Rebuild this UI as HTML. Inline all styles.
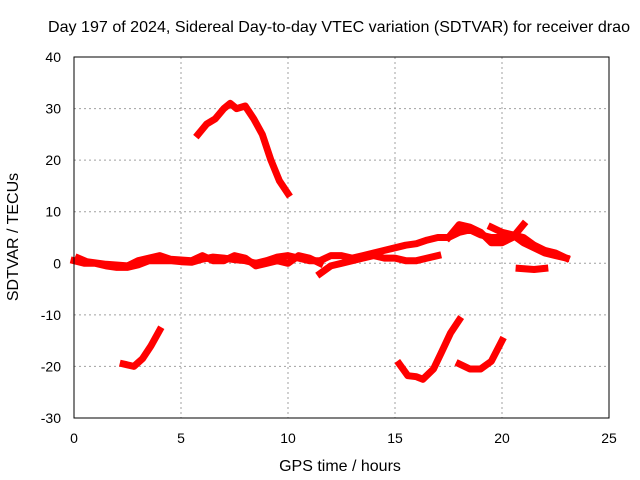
<!DOCTYPE html>
<html><head><meta charset="utf-8"><style>
body{margin:0;background:#fff}
svg{display:block;font-family:"Liberation Sans",sans-serif}
</style></head><body>
<svg id="chart" width="640" height="480">
<rect x="0" y="0" width="640" height="480" fill="#fff"/>
<g id="grid"></g>
<g id="series" fill="none" stroke="#ff0000" stroke-width="7" stroke-linejoin="round" stroke-linecap="square"></g>
<rect x="74" y="57" width="535" height="361" fill="none" stroke="#000" stroke-width="1"/>
<g id="ticks" font-size="14" fill="#000"></g>
<text x="339" y="32" font-size="16" text-anchor="middle" textLength="582" lengthAdjust="spacingAndGlyphs">Day 197 of 2024, Sidereal Day-to-day VTEC variation (SDTVAR) for receiver drao</text>
<text x="340" y="471" font-size="16" text-anchor="middle">GPS time / hours</text>
<text x="18" y="237" font-size="16" text-anchor="middle" transform="rotate(-90 18 237)">SDTVAR / TECUs</text>
</svg>
<script>
const xTicks=[0,5,10,15,20,25];
const yTicks=[40,30,20,10,0,-10,-20,-30];
const bandMain=[[0,0.5],[0.5,0],[1,0],[1.5,-0.5],[2,-0.8],[2.5,-0.8],[3,-0.3],[3.5,0.5],[4,0.5],[4.5,0.5],[5,0.3],[5.5,0.2],[6,0.8],[6.5,1.2],[7,1],[7.5,0.7],[8,0.5],[8.5,0],[9,0.5],[9.5,1.2],[10,1.5],[10.5,1],[11,0.5],[11.5,0.5],[12,1.5],[12.5,1.5],[13,1],[13.5,1.5],[14,2],[14.5,2.5],[15,3],[15.5,3.5],[16,3.8],[16.5,4.5],[17,5],[17.5,5],[18,6],[18.5,6.5],[19,5.5],[19.5,5],[20,5],[20.5,5.5],[21,4],[21.5,3],[22,2],[22.5,1.5],[23,1]];
const bandSecond=[[0.2,1],[0.6,0.3],[1.5,-0.2],[2.5,-0.5],[3,0.5],[3.5,1],[4,1.5],[4.5,0.8],[5.5,0.5],[6,1.5],[6.5,0.5],[7,0.5],[7.5,1.5],[8,1],[8.5,-0.5],[9,0],[9.5,0.5],[10,0],[10.5,1.5],[11,1],[11.5,0]];
const bandLow=[[11.5,-2],[12,-0.5],[12.5,0],[13,0.5],[13.5,1],[14,1.5],[14.5,1],[15,1],[15.5,0.5],[16,0.5],[16.5,1],[17,1.5]];
const bandUpperA=[[17.5,5],[18,7.5],[18.5,7],[19,6],[19.5,4],[20,4],[20.5,5],[21,7.5]];
const bandUpperB=[[19.5,7],[20,6],[20.5,5.5],[21,5],[21.5,3.5],[22,2.5],[22.5,2],[23,1]];
const smallSeg=[[20.8,-1],[21.5,-1.2],[22,-1]];
const arcHigh=[[5.8,25],[6.2,27],[6.6,28],[7,30],[7.3,31],[7.6,30],[8,30.5],[8.4,28],[8.8,25],[9.2,20],[9.6,16],[10,13.5]];
const arcLow1=[[2.3,-19.5],[2.8,-20],[3.2,-18.5],[3.6,-16],[4,-13]];
const arcLow2=[[15.2,-19.5],[15.6,-21.8],[16,-22],[16.3,-22.5],[16.8,-20.5],[17.2,-17],[17.6,-13.5],[18,-11]];
const arcLow3=[[18,-19.5],[18.5,-20.5],[19,-20.5],[19.5,-19],[20,-15]];
const seriesList=[["band-main",bandMain],["band-second",bandSecond],["band-low",bandLow],["band-upper-a",bandUpperA],["band-upper-b",bandUpperB],["small-segment",smallSeg],["arc-high",arcHigh],["arc-low-1",arcLow1],["arc-low-2",arcLow2],["arc-low-3",arcLow3]];
const NS="http://www.w3.org/2000/svg";
const X=h=>74+h*(535/25);
const Y=v=>57+(40-v)*(361/70);
const grid=document.getElementById('grid'),ticks=document.getElementById('ticks'),ser=document.getElementById('series');
xTicks.forEach(t=>{
 if(t>0&&t<25){const l=document.createElementNS(NS,'line');l.setAttribute('x1',X(t));l.setAttribute('x2',X(t));l.setAttribute('y1',57);l.setAttribute('y2',418);l.setAttribute('stroke','#a0a0a0');l.setAttribute('stroke-dasharray','2,3');
 
 grid.appendChild(l);}
 const s=document.createElementNS(NS,'text');s.setAttribute('x',X(t));s.setAttribute('y',443);s.setAttribute('text-anchor','middle');s.textContent=t;
 
 ticks.appendChild(s);
});
yTicks.forEach(t=>{
 if(t<40&&t>-30){const l=document.createElementNS(NS,'line');l.setAttribute('x1',74);l.setAttribute('x2',609);l.setAttribute('y1',Y(t));l.setAttribute('y2',Y(t));l.setAttribute('stroke','#a0a0a0');l.setAttribute('stroke-dasharray','2,3');
 
 grid.appendChild(l);}
 const s=document.createElementNS(NS,'text');s.setAttribute('x',61);s.setAttribute('y',Y(t)+5);s.setAttribute('text-anchor','end');s.textContent=t;
 
 ticks.appendChild(s);
});
seriesList.forEach(([name,pts])=>{
 const p=document.createElementNS(NS,'polyline');
 p.setAttribute('points',pts.map(d=>X(d[0]).toFixed(1)+','+Y(d[1]).toFixed(1)).join(' '));
 
 
 ser.appendChild(p);
});
</script>
</body></html>
